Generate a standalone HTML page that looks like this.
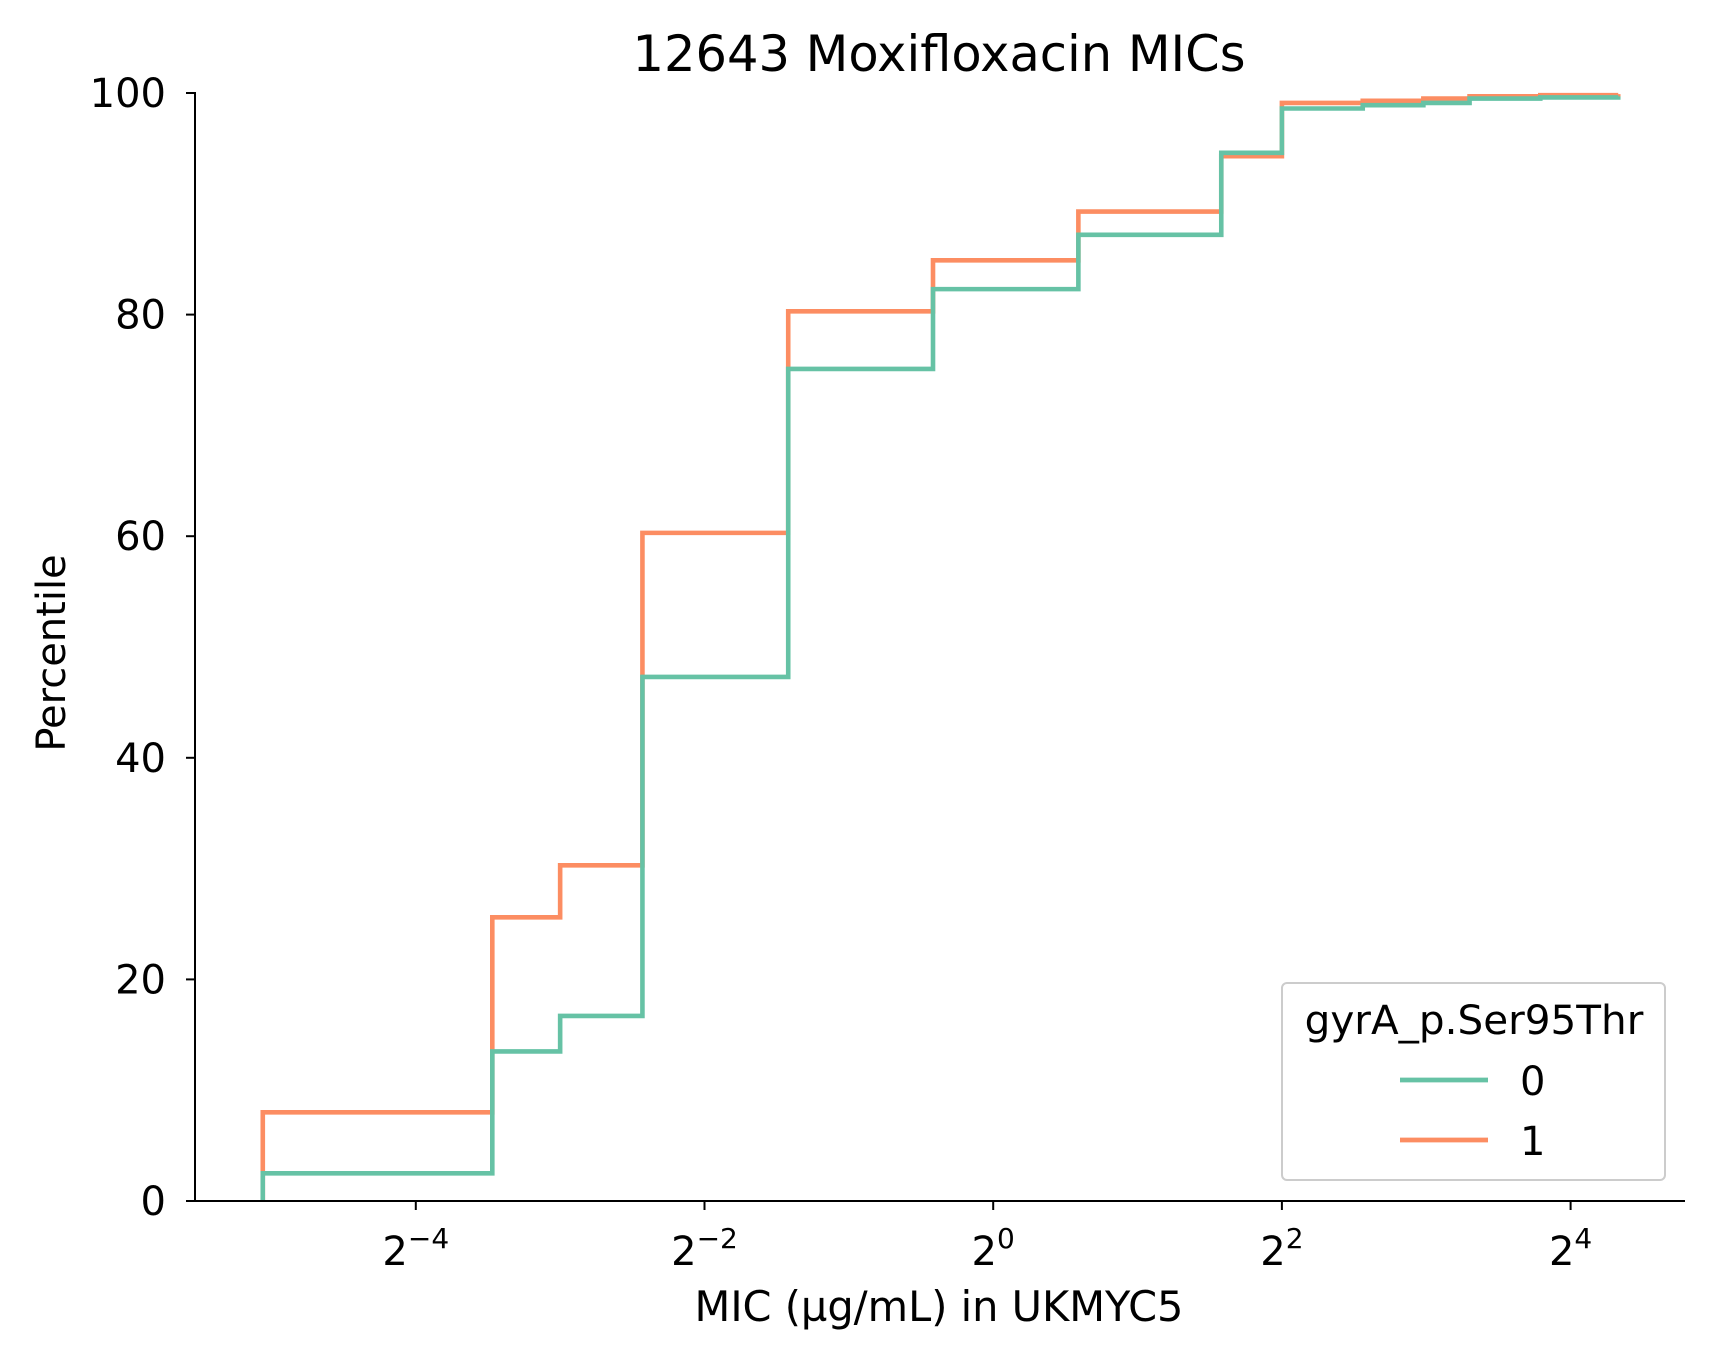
<!DOCTYPE html>
<html><head><meta charset="utf-8"><style>
html,body{margin:0;padding:0;background:#fff;}
text{font-family:"DejaVu Sans","Liberation Sans",sans-serif;fill:#000;}
</style></head><body>
<svg id="chart" width="1713" height="1358" viewBox="0 0 1713 1358" xmlns="http://www.w3.org/2000/svg">
<rect width="1713" height="1358" fill="#fff"/>
<text x="939" y="71" font-size="49.5" text-anchor="middle">12643 Moxifloxacin MICs</text>
<g id="plot"></g>
<line x1="195" y1="92" x2="195" y2="1202" stroke="#000" stroke-width="2"/>
<line x1="194" y1="1201" x2="1685" y2="1201" stroke="#000" stroke-width="2"/>
<g id="yticks"></g><g id="xticks"></g>
<text x="939" y="1321" font-size="41.5" text-anchor="middle">MIC (µg/mL) in UKMYC5</text>
<text transform="translate(65,653) rotate(-90)" font-size="40" text-anchor="middle">Percentile</text>
<g>
<rect x="1282" y="983" width="383" height="197" rx="5" fill="#fff" stroke="#ccc" stroke-width="2"/>
<text x="1474" y="1034" font-size="40.5" text-anchor="middle">gyrA_p.Ser95Thr</text>
<g><line x1="1400" y1="1080" x2="1488" y2="1080" stroke="#66c2a5" stroke-width="4.8"/><text x="1520" y="1095" font-size="40">0</text></g>
<g><line x1="1400" y1="1140" x2="1488" y2="1140" stroke="#fc8d62" stroke-width="4.8"/><text x="1520" y="1155" font-size="40">1</text></g>
</g>
</svg>
<script>
const xLog2Teal = [-5.06, -3.47, -3.0, -2.43, -1.42, -0.417, 0.59, 1.58, 2.0, 2.56, 2.98, 3.3, 3.79, 4.33];
const teal = [2.5, 13.5, 16.7, 47.3, 75.1, 82.3, 87.2, 94.6, 98.6, 98.9, 99.1, 99.5, 99.6, 99.7];
const xLog2Orange = [-5.06, -3.47, -3.0, -2.43, -1.42, -0.417, 0.59, 1.58, 2.0, 2.56, 2.98, 3.3, 3.79, 4.33];
const orange = [8.0, 25.6, 30.3, 60.3, 80.3, 84.9, 89.3, 94.3, 99.1, 99.3, 99.5, 99.7, 99.8, 99.9];
const yTicks = [0, 20, 40, 60, 80, 100];
const xTickExps = [-4, -2, 0, 2, 4];
const NS = "http://www.w3.org/2000/svg";
function xs(l){return 993.2 + l*144.35;}
function ys(v){return 1201 - v*11.08;}
function stepPath(xl, vals){
  let d = "M" + xs(xl[0]) + "," + ys(0);
  for(let i=0;i<xl.length;i++){
    d += " L" + xs(xl[i]) + "," + (i===0?ys(0):ys(vals[i-1]));
    d += " L" + xs(xl[i]) + "," + ys(vals[i]);
  }
  d += " L" + xs(xl[xl.length-1]) + "," + ys(vals[vals.length-1]);
  return d;
}
const plot = document.getElementById("plot");
[[xLog2Orange, orange, "#fc8d62", "ecdf-line-1"], [xLog2Teal, teal, "#66c2a5", "ecdf-line-0"]].forEach(s=>{
  const p = document.createElementNS(NS, "path");
  p.setAttribute("d", stepPath(s[0], s[1]));
  p.setAttribute("fill", "none");
  p.setAttribute("stroke", s[2]);
  p.setAttribute("stroke-width", "4.6");
  
  
  plot.appendChild(p);
});
const yt = document.getElementById("yticks");
yTicks.forEach(v=>{
  const l = document.createElementNS(NS, "line");
  l.setAttribute("x1", 186); l.setAttribute("x2", 195);
  l.setAttribute("y1", ys(v)); l.setAttribute("y2", ys(v));
  l.setAttribute("stroke", "#000"); l.setAttribute("stroke-width", "2");
  
  
  yt.appendChild(l);
  const t = document.createElementNS(NS, "text");
  t.setAttribute("x", 166); t.setAttribute("y", ys(v)+14);
  t.setAttribute("font-size", "40"); t.setAttribute("text-anchor", "end");
  t.textContent = v;
  
  
  yt.appendChild(t);
});
const xt = document.getElementById("xticks");
xTickExps.forEach(e=>{
  const x = xs(e);
  const l = document.createElementNS(NS, "line");
  l.setAttribute("x1", x); l.setAttribute("x2", x);
  l.setAttribute("y1", 1201); l.setAttribute("y2", 1210);
  l.setAttribute("stroke", "#000"); l.setAttribute("stroke-width", "2");
  
  
  xt.appendChild(l);
  const t = document.createElementNS(NS, "text");
  t.setAttribute("x", x); t.setAttribute("y", 1265);
  t.setAttribute("font-size", "40"); t.setAttribute("text-anchor", "middle");
  t.textContent = "2";
  const sp = document.createElementNS(NS, "tspan");
  sp.setAttribute("dy", "-17"); sp.setAttribute("font-size", "28");
  sp.textContent = e < 0 ? "\u2212" + (-e) : String(e);
  t.appendChild(sp);
  
  
  xt.appendChild(t);
});
</script>
</body></html>
